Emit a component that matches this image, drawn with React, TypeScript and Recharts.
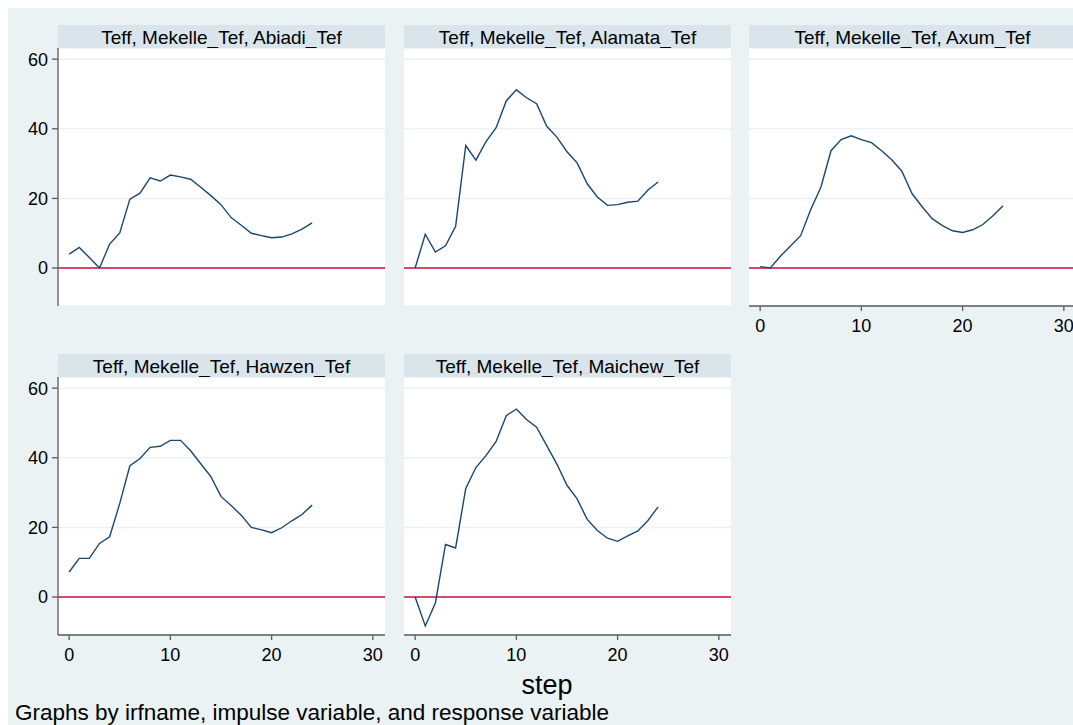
import React from "react";
import {
  LineChart,
  Line,
  XAxis,
  YAxis,
  CartesianGrid,
  ReferenceLine,
} from "recharts";

// impulse-response steps and responses
const steps = [0, 1, 2, 3, 4, 5, 6, 7, 8, 9, 10, 11, 12, 13, 14, 15, 16, 17, 18, 19, 20, 21, 22, 23, 24];

const abiadi = [4.0, 5.9, 3.0, 0.0, 6.9, 10.1, 19.8, 21.5, 25.9, 25.0, 26.7, 26.2, 25.5, 23.2, 20.8, 18.2, 14.5, 12.3, 10.0, 9.3, 8.7, 8.9, 9.8, 11.2, 13.0];
const alamata = [0.0, 9.7, 4.6, 6.4, 12.0, 35.2, 31.0, 36.3, 40.3, 48.0, 51.2, 48.9, 47.2, 40.7, 37.6, 33.4, 30.2, 24.2, 20.4, 18.0, 18.2, 18.9, 19.2, 22.4, 24.7];
const axum = [0.4, 0.0, 3.4, 6.3, 9.3, 16.8, 23.2, 33.7, 36.9, 38.0, 36.9, 36.0, 33.7, 31.1, 27.8, 21.4, 17.6, 14.2, 12.2, 10.7, 10.2, 11.0, 12.5, 15.0, 17.9];
const hawzen = [7.2, 11.1, 11.1, 15.4, 17.3, 26.9, 37.7, 39.8, 43.0, 43.3, 45.0, 45.0, 42.0, 38.3, 34.6, 28.9, 26.3, 23.5, 20.0, 19.3, 18.5, 19.9, 21.9, 23.7, 26.4];
const maichew = [0.0, -8.3, -1.7, 15.1, 14.1, 31.2, 37.2, 40.6, 44.7, 52.1, 54.0, 51.0, 48.8, 43.5, 38.2, 32.1, 28.2, 22.3, 19.1, 16.9, 16.0, 17.6, 19.0, 22.0, 25.9];

const panelTitles = [
  "Teff, Mekelle_Tef, Abiadi_Tef",
  "Teff, Mekelle_Tef, Alamata_Tef",
  "Teff, Mekelle_Tef, Axum_Tef",
  "Teff, Mekelle_Tef, Hawzen_Tef",
  "Teff, Mekelle_Tef, Maichew_Tef",
];

const xTicks = [0, 10, 20, 30];
const yTicks = [0, 20, 40, 60];

const BG = "#eaf2f3";
const STRIP = "#d9e5eb";
const NAVY = "#1a476f";
const RED = "#d0103c";
const AXIS = "#5b5b5b";

const PLOT_W = 327;
const PLOT_H = 258;
const Y_AXIS_W = 50;
const X_AXIS_H = 35;

type PanelProps = {
  title: string;
  values: number[];
  left: number;
  top: number;
  showY: boolean;
  showX: boolean;
};

function Panel({ title, values, left, top, showY, showX }: PanelProps) {
  const data = steps.map((s, i) => ({ step: s, value: values[i] }));
  const yW = showY ? Y_AXIS_W : 0;
  const xH = showX ? X_AXIS_H : 0;

  return (
    <>
      <div
        style={{
          position: "absolute",
          left,
          top: top - 23,
          width: PLOT_W,
          height: 23,
          background: STRIP,
          fontSize: 19,
          lineHeight: "25px",
          textAlign: "center",
          whiteSpace: "nowrap",
          overflow: "hidden",
          color: "#000",
        }}
      >
        {title}
      </div>
      <div
        style={{
          position: "absolute",
          left: left - yW,
          top,
          width: PLOT_W + yW,
          height: PLOT_H + xH,
        }}
      >
        <div
          style={{
            position: "absolute",
            left: yW,
            top: 0,
            width: PLOT_W,
            height: PLOT_H,
            background: "#fff",
          }}
        />
        <LineChart
          width={PLOT_W + yW}
          height={PLOT_H + xH}
          data={data}
          margin={{ top: 0, right: 0, bottom: 0, left: 0 }}
        >
          <CartesianGrid vertical={false} stroke={BG} strokeWidth={1.5} />
          <XAxis
            type="number"
            dataKey="step"
            domain={[-1.1, 31.2]}
            ticks={xTicks}
            allowDataOverflow
            hide={!showX}
            height={X_AXIS_H}
            tickSize={5}
            tickMargin={8}
            axisLine={{ stroke: AXIS, strokeWidth: 1.3 }}
            tickLine={{ stroke: AXIS, strokeWidth: 1.3 }}
            tick={{ fill: "#000", fontSize: 18 }}
          />
          <YAxis
            type="number"
            domain={[-10.9, 63.2]}
            ticks={yTicks}
            allowDataOverflow
            hide={!showY}
            width={Y_AXIS_W}
            tickSize={6}
            tickMargin={4}
            axisLine={{ stroke: AXIS, strokeWidth: 1.3 }}
            tickLine={{ stroke: AXIS, strokeWidth: 1.3 }}
            tick={{ fill: "#000", fontSize: 18 }}
          />
          <ReferenceLine y={0} stroke={RED} strokeWidth={1.5} />
          <Line
            type="linear"
            dataKey="value"
            stroke={NAVY}
            strokeWidth={1.4}
            dot={false}
            isAnimationActive={false}
          />
        </LineChart>
      </div>
    </>
  );
}

export default function App() {
  return (
    <div
      style={{
        position: "fixed",
        left: 8,
        top: 8,
        right: 0,
        bottom: 0,
        background: BG,
        overflow: "hidden",
        fontFamily: "'Liberation Sans', Arial, sans-serif",
      }}
    >
      <Panel title={panelTitles[0]} values={abiadi} left={50} top={40} showY showX={false} />
      <Panel title={panelTitles[1]} values={alamata} left={396} top={40} showY={false} showX={false} />
      <Panel title={panelTitles[2]} values={axum} left={741} top={40} showY={false} showX />
      <Panel title={panelTitles[3]} values={hawzen} left={50} top={369} showY showX />
      <Panel title={panelTitles[4]} values={maichew} left={396} top={369} showY={false} showX />

      <div
        style={{
          position: "absolute",
          left: 489,
          top: 664,
          width: 100,
          textAlign: "center",
          fontSize: 27,
          lineHeight: 1,
        }}
      >
        step
      </div>
      <div
        style={{
          position: "absolute",
          left: 7,
          top: 694,
          fontSize: 22.5,
          lineHeight: 1,
          whiteSpace: "nowrap",
        }}
      >
        Graphs by irfname, impulse variable, and response variable
      </div>
    </div>
  );
}
